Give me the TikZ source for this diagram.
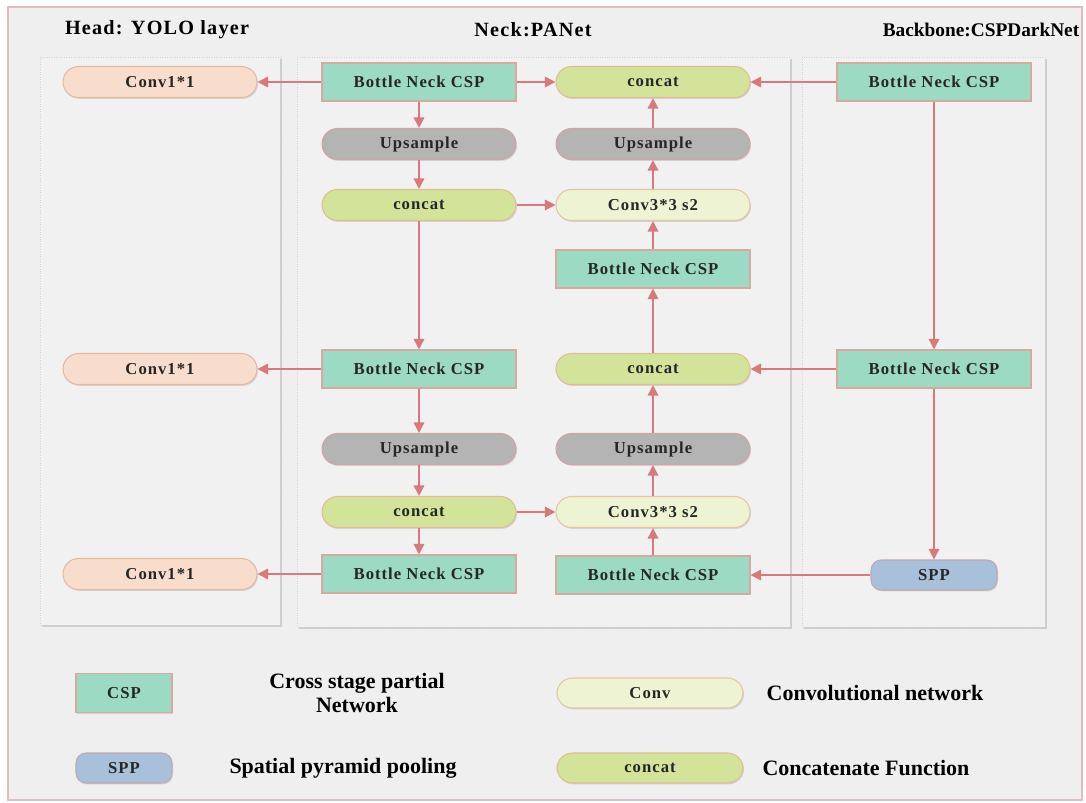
\documentclass[tikz,border=0pt]{standalone}
\usepackage{fontspec}
\setmainfont{Liberation Serif}
\newfontfamily\boxfont[LetterSpace=6]{Liberation Serif}
\usetikzlibrary{arrows.meta,shadows}

\definecolor{bgcol}{HTML}{EFEFEF}
\definecolor{framecol}{HTML}{E3BDBD}
\definecolor{panelcol}{HTML}{F1F1F1}
\definecolor{panelline}{HTML}{D2D2D2}
\definecolor{arrowcol}{HTML}{D9797A}
\definecolor{cspfill}{HTML}{9DDAC4}
\definecolor{cspline}{HTML}{D7A9A0}
\definecolor{headfill}{HTML}{F9DDCC}
\definecolor{headline}{HTML}{E5B9A0}
\definecolor{upfill}{HTML}{B4B4B4}
\definecolor{upline}{HTML}{D4A2A2}
\definecolor{catfill}{HTML}{D4E39A}
\definecolor{catline}{HTML}{DDBE94}
\definecolor{convfill}{HTML}{EEF4D3}
\definecolor{convline}{HTML}{E3C4A4}
\definecolor{sppfill}{HTML}{A9C0DA}
\definecolor{sppline}{HTML}{C2A7B7}

\tikzset{
  base/.style={font=\boxfont\bfseries\fontsize{9.5}{11}\selectfont, text=black!85,
    line width=0.6pt, drop shadow={opacity=0.25, shadow xshift=0.6pt, shadow yshift=-0.8pt}},
  csp/.style={base, draw=cspline, fill=cspfill, minimum width=3.88cm, minimum height=0.76cm},
  pill/.style={base, rounded corners=0.31cm, minimum width=3.88cm, minimum height=0.62cm},
  head/.style={pill, draw=headline, fill=headfill},
  upsample/.style={pill, draw=upline, fill=upfill},
  cat/.style={pill, draw=catline, fill=catfill},
  conv/.style={pill, draw=convline, fill=convfill},
  spp/.style={pill, draw=sppline, fill=sppfill, minimum width=2.52cm, minimum height=0.6cm, rounded corners=0.2cm},
  title/.style={font=\boxfont\bfseries\fontsize{11.5}{13}\selectfont},
  legend/.style={font=\bfseries\fontsize{12.5}{14}\selectfont, align=center},
  panel/.style={draw=panelline, densely dotted, fill=panelcol,
    drop shadow={opacity=0.3, shadow xshift=1pt, shadow yshift=-1pt}},
  arr/.style={-{Triangle[length=6pt,width=6pt]}, draw=arrowcol, line width=0.9pt}
}

\begin{document}
\begin{tikzpicture}[x=0.02cm, y=-0.02cm]
			\useasboundingbox (0,0) rectangle (1086,802);
			\fill [white] (0,0) rectangle (1086,802);
			\draw [draw=framecol, fill=bgcol, line width=0.8pt] (8,7) rectangle (1082,800);
			% panels
			\draw [panel] (40,57) rectangle (280,625);
			\draw [panel] (297,57) rectangle (790,627);
			\draw [panel] (802,57) rectangle (1045,627);
			\node [title] (thead) at (157,30) {Head: YOLO layer};
			\node [title] (tneck) at (533,30) {Neck:PANet};
			\node [title, font=\bfseries\fontsize{11}{13}\selectfont] (tback) at (981,30) {Backbone:CSPDarkNet};
			% head
			\node [head] (h1) at (160,82) {Conv1*1};
			\node [head] (h2) at (160,369) {Conv1*1};
			\node [head] (h3) at (160,574) {Conv1*1};
			% neck, left column
			\node [csp] (n1) at (419,82) {Bottle Neck CSP};
			\node [upsample] (u1) at (419,144) {Upsample};
			\node [cat] (c1) at (419,205) {concat};
			\node [csp] (n2) at (419,369) {Bottle Neck CSP};
			\node [upsample] (u2) at (419,449) {Upsample};
			\node [cat] (c2) at (419,512) {concat};
			\node [csp] (n3) at (419,574) {Bottle Neck CSP};
			% neck, right column
			\node [cat] (c3) at (653,82) {concat};
			\node [upsample] (u3) at (653,144) {Upsample};
			\node [conv] (v1) at (653,205) {Conv3*3 s2};
			\node [csp] (n4) at (653,269) {Bottle Neck CSP};
			\node [cat] (c4) at (653,369) {concat};
			\node [upsample] (u4) at (653,449) {Upsample};
			\node [conv] (v2) at (653,512) {Conv3*3 s2};
			\node [csp] (n5) at (653,575) {Bottle Neck CSP};
			% backbone
			\node [csp] (b1) at (934,82) {Bottle Neck CSP};
			\node [csp] (b2) at (934,369) {Bottle Neck CSP};
			\node [spp] (sp) at (934,575) {SPP};
			% connections
			\draw [arr] (n1) -- (h1);
			\draw [arr] (n2) -- (h2);
			\draw [arr] (n3) -- (h3);
			\draw [arr] (n1) -- (u1);
			\draw [arr] (u1) -- (c1);
			\draw [arr] (c1) -- (n2);
			\draw [arr] (n2) -- (u2);
			\draw [arr] (u2) -- (c2);
			\draw [arr] (c2) -- (n3);
			\draw [arr] (n1) -- (c3);
			\draw [arr] (c1) -- (v1);
			\draw [arr] (c2) -- (v2);
			\draw [arr] (n5) -- (v2);
			\draw [arr] (v2) -- (u4);
			\draw [arr] (u4) -- (c4);
			\draw [arr] (c4) -- (n4);
			\draw [arr] (n4) -- (v1);
			\draw [arr] (v1) -- (u3);
			\draw [arr] (u3) -- (c3);
			\draw [arr] (b1) -- (c3);
			\draw [arr] (b1) -- (b2);
			\draw [arr] (b2) -- (c4);
			\draw [arr] (b2) -- (sp);
			\draw [arr] (sp) -- (n5);
			% legend
			\node [csp, minimum width=1.92cm, minimum height=0.78cm] (lcsp) at (124,693) {CSP};
			\node [spp, minimum width=1.92cm] (lspp) at (124,768) {SPP};
			\node [conv, minimum width=3.72cm, minimum height=0.6cm] (lconv) at (650,693) {Conv};
			\node [cat, minimum width=3.72cm, minimum height=0.6cm] (lcat) at (650,768) {concat};
			\node [legend] (tcsp) at (357,693) {Cross stage partial\\Network};
			\node [legend] (tspp) at (343,768) {Spatial pyramid pooling};
			\node [legend] (tconv) at (875,693) {Convolutional network};
			\node [legend] (tcat) at (866,768) {Concatenate Function};
		\end{tikzpicture}
\end{document}
